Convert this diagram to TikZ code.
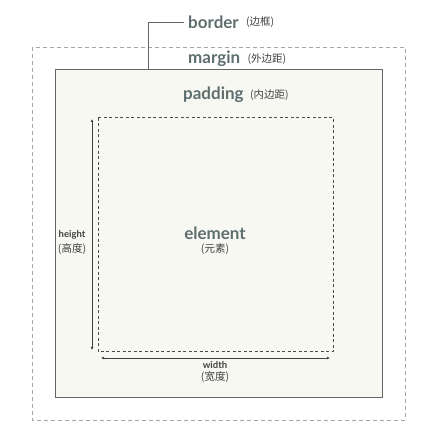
\documentclass[tikz,border=0pt]{standalone}
\usepackage{fontspec}
\setmainfont{Lato}
\newfontfamily\cjk{Noto Sans CJK SC}
\usetikzlibrary{arrows.meta,positioning}
\definecolor{labelgray}{HTML}{5E6E6E}
\definecolor{boxfill}{HTML}{F8F8F3}
\tikzset{
  big/.style={font=\bfseries\fontsize{17}{17}\selectfont, text=labelgray, inner sep=1pt},
  note/.style={font=\cjk\fontsize{10.5}{11}\selectfont, text=black!75, inner sep=1pt},
  small/.style={font=\bfseries\fontsize{9.5}{10}\selectfont, text=black!75, inner sep=1pt},
  measure/.style={{Latex[length=3pt,width=3pt]}-{Latex[length=3pt,width=3pt]}, black!75, line width=0.9pt}
}

\begin{document}
\begin{tikzpicture}[x=1pt,y=-1pt]
\useasboundingbox (0,0) rectangle (439,435);
% margin, border, padding
\draw[black!35, dash pattern=on 4pt off 3pt, line width=0.8pt] (32,47) rectangle (405,420);
\draw[black!60, fill=boxfill, line width=1pt] (55,70) rectangle (382,397);
\draw[black!70, dash pattern=on 3pt off 2.5pt, line width=1pt] (98,118) rectangle (333,352);

\node[big, anchor=west] (border) at (187,22) {border};
\node[note, right=5pt of border] (borderzh) {(边框)};
\node[big, anchor=west] (margin) at (187,59) {margin};
\node[note, right=5pt of margin] (marginzh) {(外边距)};
\node[big, anchor=west] (padding) at (182,95) {padding};
\node[note, right=4pt of padding] (paddingzh) {(内边距)};

\node[big] (element) at (215,233) {element};
\node[note, below=2pt of element] (elementzh) {(元素)};

\node[small] (height) at (72,235) {height};
\node[note, below=2pt of height] (heightzh) {(高度)};
\node[small] (width) at (215,365) {width};
\node[note, below=1pt of width] (widthzh) {(宽度)};

\coordinate (bjoin) at (148,70);
\draw[black!60, line width=0.9pt] ([xshift=-3pt]border.west) -| (bjoin);

\coordinate (htop) at (92,119);
\coordinate (hbot) at (92,350);
\draw[measure] (htop) -- (hbot);
\coordinate (wleft) at (101,358);
\coordinate (wright) at (330,358);
\draw[measure] (wleft) -- (wright);
\end{tikzpicture}
\end{document}
